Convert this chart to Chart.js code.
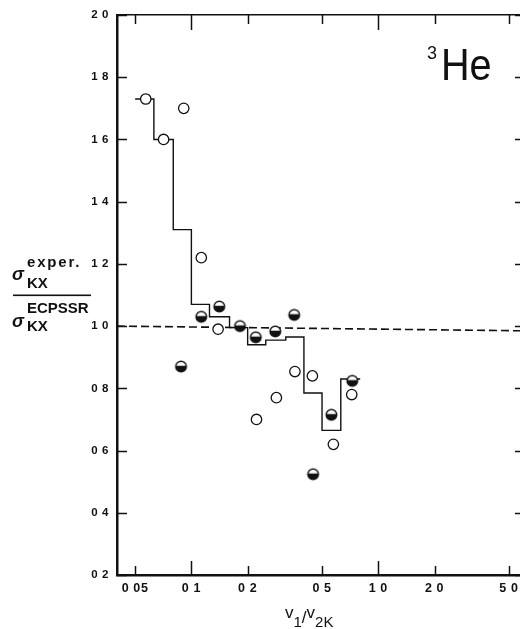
<!DOCTYPE html>
<html><head><meta charset="utf-8">
<script src="https://cdn.jsdelivr.net/npm/chart.js@4.4.1/dist/chart.umd.min.js"></script>
<style>
html,body{margin:0;padding:0;background:#fff;overflow:hidden;width:520px;height:629px;}
#wrap{position:absolute;left:0;top:0;width:528px;height:629px;}
</style></head><body>
<div id="wrap"><canvas id="c" width="528" height="629"></canvas></div>
<script>
// ---- data ----
const xTickValues = [0.05, 0.1, 0.2, 0.5, 1, 2, 5];
const xTickLabels = ['0 05', '0 1', '0 2', '0 5', '1 0', '2 0', '5 0'];
const yTickValues = [0.2, 0.4, 0.6, 0.8, 1.0, 1.2, 1.4, 1.6, 1.8, 2.0];
const yTickLabels = ['0 2', '0 4', '0 6', '0 8', '1 0', '1 2', '1 4', '1 6', '1 8', '2 0'];

// open circles
const openX = [0.057, 0.071, 0.091, 0.113, 0.139, 0.223, 0.285, 0.358, 0.444, 0.575, 0.721];
const openY = [1.73, 1.60, 1.70, 1.22, 0.99, 0.70, 0.77, 0.854, 0.84, 0.62, 0.78];
// half-filled circles
const halfX = [0.088, 0.113, 0.141, 0.182, 0.221, 0.281, 0.355, 0.448, 0.561, 0.726];
const halfY = [0.87, 1.03, 1.063, 1.00, 0.964, 0.983, 1.036, 0.524, 0.715, 0.824];
// histogram (step) line: left bin edges and levels
const stepX = [0.050, 0.063, 0.080, 0.100, 0.125, 0.160, 0.200, 0.250, 0.320, 0.400, 0.500, 0.630, 0.800];
const stepY = [1.73, 1.60, 1.31, 1.07, 1.03, 0.995, 0.94, 0.955, 0.965, 0.785, 0.665, 0.83, 0.83];
// dashed reference line
const refX = [0.04, 5.8];
const refY = [1.0, 0.985];

const INK = '#111';
const pts = (xs, ys) => xs.map((x, i) => ({x: x, y: ys[i]}));

function halfMarker() {
  const c = document.createElement('canvas');
  c.width = 15; c.height = 15;
  const g = c.getContext('2d');
  const cx = 7.5, cy = 7.5, r = 5.3;
  g.fillStyle = '#fff'; g.beginPath(); g.arc(cx, cy, r, 0, 2 * Math.PI); g.fill();
  g.fillStyle = INK; g.beginPath(); g.arc(cx, cy, r, -0.12, Math.PI + 0.12); g.closePath(); g.fill();
  g.strokeStyle = INK; g.lineWidth = 1.4; g.beginPath(); g.arc(cx, cy, r, 0, 2 * Math.PI); g.stroke();
  return c;
}

const frame = {
  id: 'frame',
  beforeDraw(chart) { chart.ctx.letterSpacing = '0.6px'; },
  afterDraw(chart) {
    const ctx = chart.ctx, a = chart.chartArea, x = chart.scales.x, y = chart.scales.y;
    ctx.save();
    ctx.letterSpacing = '0px';
    ctx.strokeStyle = INK; ctx.lineWidth = 1.5;
    const seg = (x1, y1, x2, y2) => { ctx.beginPath(); ctx.moveTo(x1, y1); ctx.lineTo(x2, y2); ctx.stroke(); };
    x.ticks.forEach(t => {
      const px = Math.round(x.getPixelForValue(t.value)) + 0.5;
      const lg = Math.log10(t.value);
      const major = Math.abs(lg - Math.round(lg)) < 1e-6;
      seg(px, a.bottom, px, a.bottom - (major ? 14 : 9));
      seg(px, a.top, px, a.top + (major ? 15 : 9));
    });
    y.ticks.forEach(t => {
      const py = Math.round(y.getPixelForValue(t.value)) + 0.5;
      seg(a.left, py, a.left + 10, py);
      seg(a.right, py, a.right - 6, py);
    });

    ctx.fillStyle = INK;
    ctx.textAlign = 'left';
    ctx.textBaseline = 'alphabetic';
    // y-axis title (fraction)
    ctx.font = 'bold italic 18px "Liberation Sans"';
    ctx.fillText('σ', 12, 280);
    ctx.fillText('σ', 12, 327);
    ctx.font = 'bold 15px "Liberation Sans"';
    ctx.letterSpacing = '1.8px';
    ctx.fillText('exper.', 27, 267);
    ctx.letterSpacing = '0px';
    ctx.fillText('KX', 27, 288);
    ctx.fillText('ECPSSR', 27, 312.5);
    ctx.fillText('KX', 27, 331);
    ctx.fillRect(13, 294.5, 78, 1.6);

    // 3He label
    ctx.font = '18px "Liberation Sans"';
    ctx.fillText('3', 427, 59);
    ctx.save();
    ctx.translate(441, 80);
    ctx.scale(0.9, 1);
    ctx.font = '44px "Liberation Sans"';
    ctx.fillText('He', 0, 0);
    ctx.restore();

    // x-axis title v1/v2K
    let cx = 285;
    const part = (txt, size, base) => {
      ctx.font = size + 'px "Liberation Sans"';
      ctx.fillText(txt, cx, base);
      cx += ctx.measureText(txt).width;
    };
    part('v', 17, 618);
    part('1', 15, 627);
    part('/', 17, 623);
    part('v', 17, 618);
    part('2K', 15, 627);
    ctx.restore();
  }
};

const tickFontX = {family: 'Liberation Sans', weight: 'bold', size: 12.5};
const tickFontY = {family: 'Liberation Sans', weight: 'bold', size: 11.5};
const noPadX = s => { s.height = 54; s.paddingLeft = 0; s.paddingRight = 0; };
const noPadY = w => s => { s.width = w; s.paddingTop = 0; s.paddingBottom = 0; };

new Chart(document.getElementById('c'), {
  type: 'scatter',
  data: {
    datasets: [
      {
        label: 'half', data: pts(halfX, halfY), xAxisID: 'x', yAxisID: 'y',
        pointStyle: halfMarker(), pointRadius: 6, pointHoverRadius: 6
      },
      {
        label: 'open', data: pts(openX, openY), xAxisID: 'x', yAxisID: 'y',
        pointStyle: 'circle', pointRadius: 5.2, pointBorderWidth: 1.3,
        pointBackgroundColor: '#fff', pointBorderColor: INK
      },
      {
        label: 'step', data: pts(stepX, stepY), xAxisID: 'x', yAxisID: 'y',
        showLine: true, stepped: 'before', pointRadius: 0, borderColor: INK, borderWidth: 1.4, fill: false
      },
      {
        label: 'ref', data: pts(refX, refY), xAxisID: 'x', yAxisID: 'y',
        showLine: true, pointRadius: 0, borderColor: INK, borderWidth: 1.6, borderDash: [8, 4], fill: false
      }
    ]
  },
  options: {
    responsive: false,
    animation: false,
    devicePixelRatio: 1,
    layout: {padding: {left: 0, top: 15, right: 2, bottom: 0}},
    plugins: {legend: {display: false}, tooltip: {enabled: false}},
    scales: {
      x: {
        type: 'logarithmic', position: 'bottom', min: 0.04, max: 5.8,
        afterBuildTicks: s => { s.ticks = xTickValues.map(v => ({value: v})); },
        afterFit: noPadX,
        ticks: {callback: (v, i) => xTickLabels[i], font: tickFontX, color: INK, padding: 6, maxRotation: 0, minRotation: 0, autoSkip: false},
        grid: {display: false, drawTicks: false},
        border: {display: true, color: INK, width: 2.5}
      },
      xTop: {
        type: 'logarithmic', position: 'top', min: 0.04, max: 5.8,
        afterFit: s => { s.height = 0; s.paddingLeft = 0; s.paddingRight = 0; },
        ticks: {display: false},
        grid: {display: false, drawTicks: false},
        border: {display: true, color: INK, width: 1.5}
      },
      y: {
        type: 'linear', position: 'left', min: 0.2, max: 2.0,
        afterBuildTicks: s => { s.ticks = yTickValues.map(v => ({value: v})); },
        afterFit: noPadY(117),
        ticks: {callback: (v, i) => yTickLabels[i], font: tickFontY, color: INK, padding: 8, autoSkip: false},
        grid: {display: false, drawTicks: false},
        border: {display: true, color: INK, width: 2.5}
      },
      yRight: {
        type: 'linear', position: 'right', min: 0.2, max: 2.0,
        afterFit: noPadY(0),
        ticks: {display: false},
        grid: {display: false, drawTicks: false},
        border: {display: true, color: INK, width: 1.5}
      }
    }
  },
  plugins: [frame]
});
</script></body></html>
